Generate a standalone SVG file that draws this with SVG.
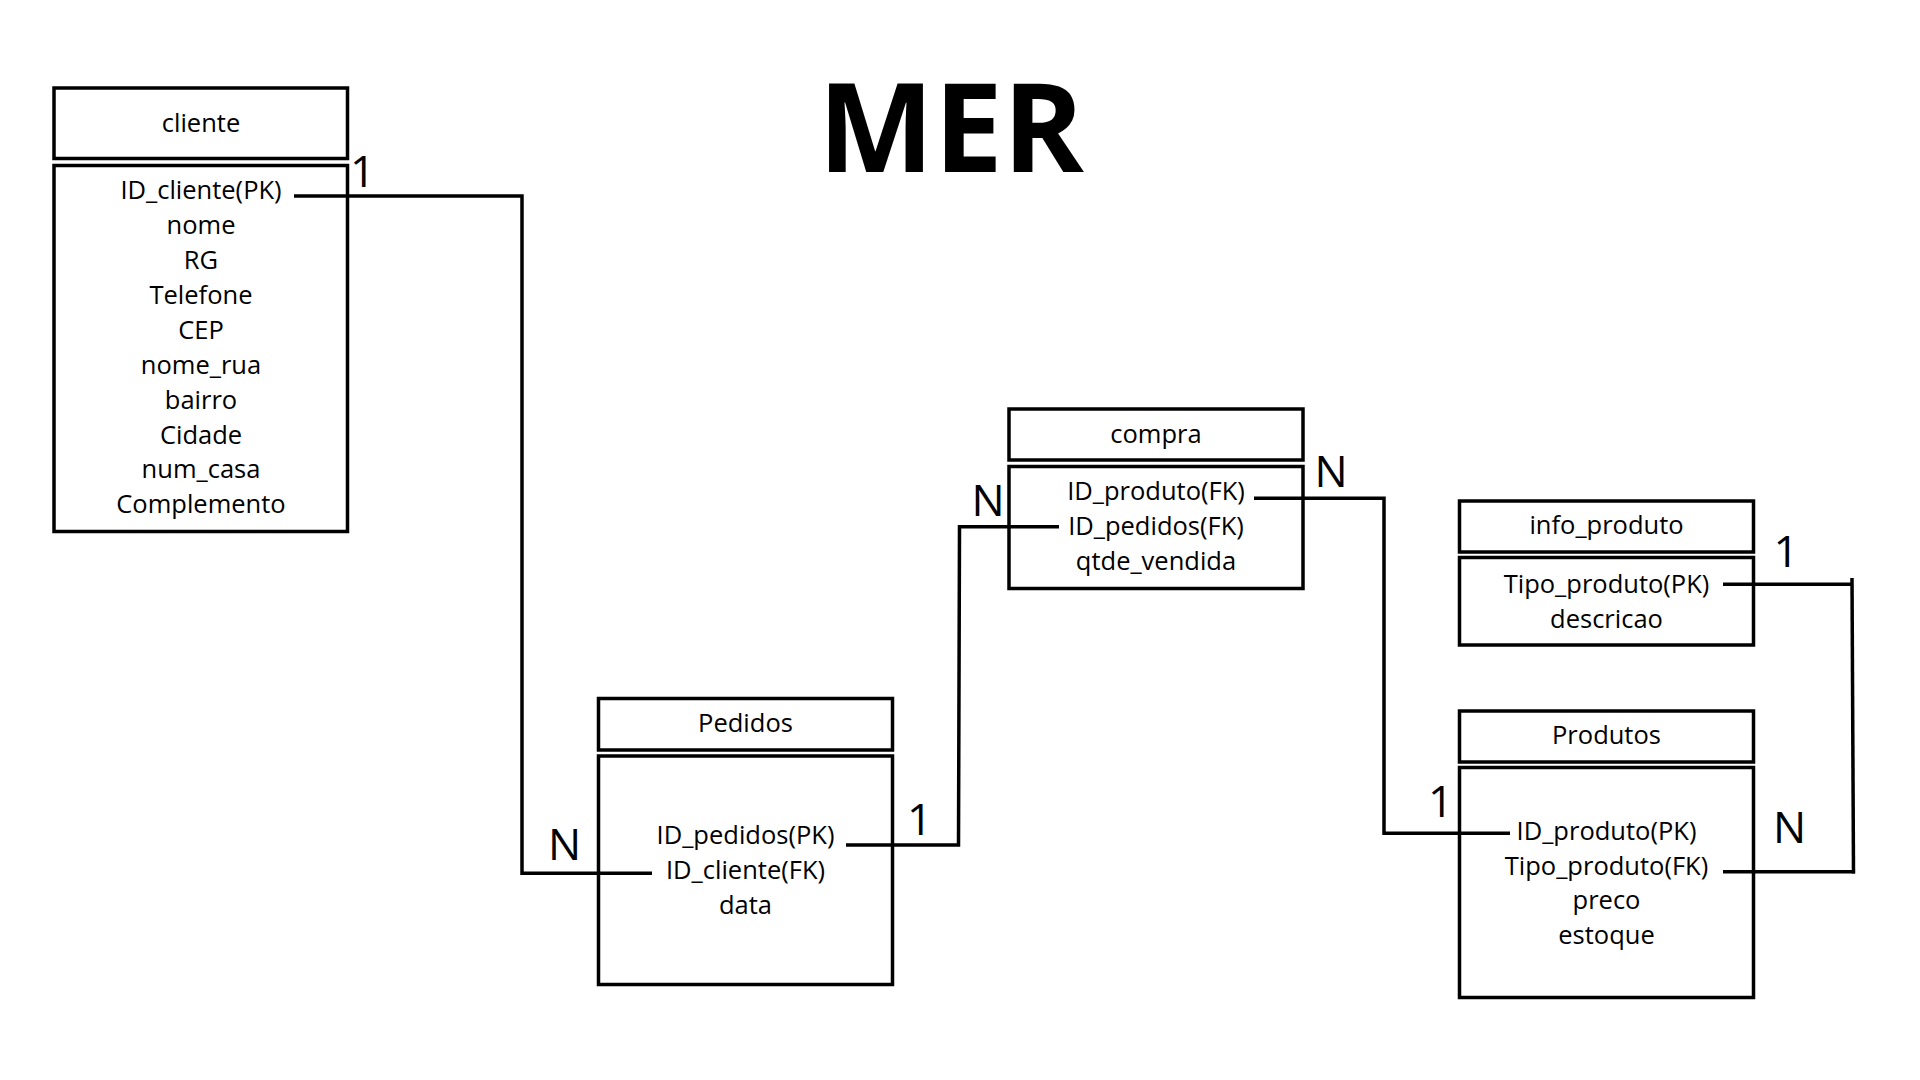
<svg xmlns="http://www.w3.org/2000/svg" width="1920" height="1080" viewBox="0 0 1920 1080">
<style>
.box{fill:none;stroke:#000;stroke-width:3.5}
.t{font-family:"Open Sans","Noto Sans","DejaVu Sans",sans-serif;font-size:25.5px;fill:#000;text-anchor:middle}
.lbl{font-family:"Open Sans","Noto Sans","DejaVu Sans",sans-serif;font-size:44px;fill:#000}
.title{font-family:"Open Sans","Noto Sans","DejaVu Sans",sans-serif;font-size:123px;font-weight:700;fill:#000}
.conn{fill:none;stroke:#000;stroke-width:3.5}
</style>
<rect width="1920" height="1080" fill="#fff"/>
<text class="title" x="818" y="172">MER</text>

<g id="cliente">
<rect class="box" x="54" y="88" width="293.5" height="70.5"/>
<rect class="box" x="54" y="165.5" width="293.5" height="366"/>
<text class="t" x="201" y="131.5">cliente</text>
<text class="t" x="201" y="199">ID_cliente(PK)</text>
<text class="t" x="201" y="234">nome</text>
<text class="t" x="201" y="269">RG</text>
<text class="t" x="201" y="304">Telefone</text>
<text class="t" x="201" y="339">CEP</text>
<text class="t" x="201" y="373.5">nome_rua</text>
<text class="t" x="201" y="408.5">bairro</text>
<text class="t" x="201" y="443.5">Cidade</text>
<text class="t" x="201" y="478">num_casa</text>
<text class="t" x="201" y="513">Complemento</text>
</g>

<g id="compra">
<rect class="box" x="1009" y="409" width="294" height="51"/>
<rect class="box" x="1009" y="466.5" width="294" height="122"/>
<text class="t" x="1156" y="442.7">compra</text>
<text class="t" x="1156" y="500">ID_produto(FK)</text>
<text class="t" x="1156" y="535">ID_pedidos(FK)</text>
<text class="t" x="1156" y="569.5">qtde_vendida</text>
</g>

<g id="pedidos">
<rect class="box" x="598.5" y="698.5" width="294" height="51.5"/>
<rect class="box" x="598.5" y="756" width="294" height="228.5"/>
<text class="t" x="745.5" y="732.3">Pedidos</text>
<text class="t" x="745.5" y="844">ID_pedidos(PK)</text>
<text class="t" x="745.5" y="879">ID_cliente(FK)</text>
<text class="t" x="745.5" y="914">data</text>
</g>

<g id="info_produto">
<rect class="box" x="1459.5" y="501" width="294" height="51"/>
<rect class="box" x="1459.5" y="557.5" width="294" height="87.5"/>
<text class="t" x="1606.5" y="534.3">info_produto</text>
<text class="t" x="1606.5" y="593.3">Tipo_produto(PK)</text>
<text class="t" x="1606.5" y="628">descricao</text>
</g>

<g id="produtos">
<rect class="box" x="1459.5" y="711" width="294" height="51"/>
<rect class="box" x="1459.5" y="767.5" width="294" height="230"/>
<text class="t" x="1606.5" y="744.3">Produtos</text>
<text class="t" x="1606.5" y="839.5">ID_produto(PK)</text>
<text class="t" x="1606.5" y="874.5">Tipo_produto(FK)</text>
<text class="t" x="1606.5" y="909">preco</text>
<text class="t" x="1606.5" y="944">estoque</text>
</g>

<g id="connectors">
<path class="conn" d="M294,196 H522 V873.3 H652"/>
<path class="conn" d="M846,845 H958.5 L959.5,526.7 H1059"/>
<path class="conn" d="M1254,498.3 H1384 V833.3 H1510"/>
<path class="conn" d="M1723,584.3 H1852"/>
<path class="conn" d="M1852,578 L1853.5,873.5"/>
<path class="conn" d="M1723,871.7 H1855"/>
<text class="lbl" x="350" y="187">1</text>
<text class="lbl" x="548" y="860">N</text>
<text class="lbl" x="907" y="835">1</text>
<text class="lbl" x="971.5" y="516">N</text>
<text class="lbl" x="1314.5" y="487.3">N</text>
<text class="lbl" x="1773.5" y="567.3">1</text>
<text class="lbl" x="1428" y="816.7">1</text>
<text class="lbl" x="1773" y="843.3">N</text>
</g>
</svg>
